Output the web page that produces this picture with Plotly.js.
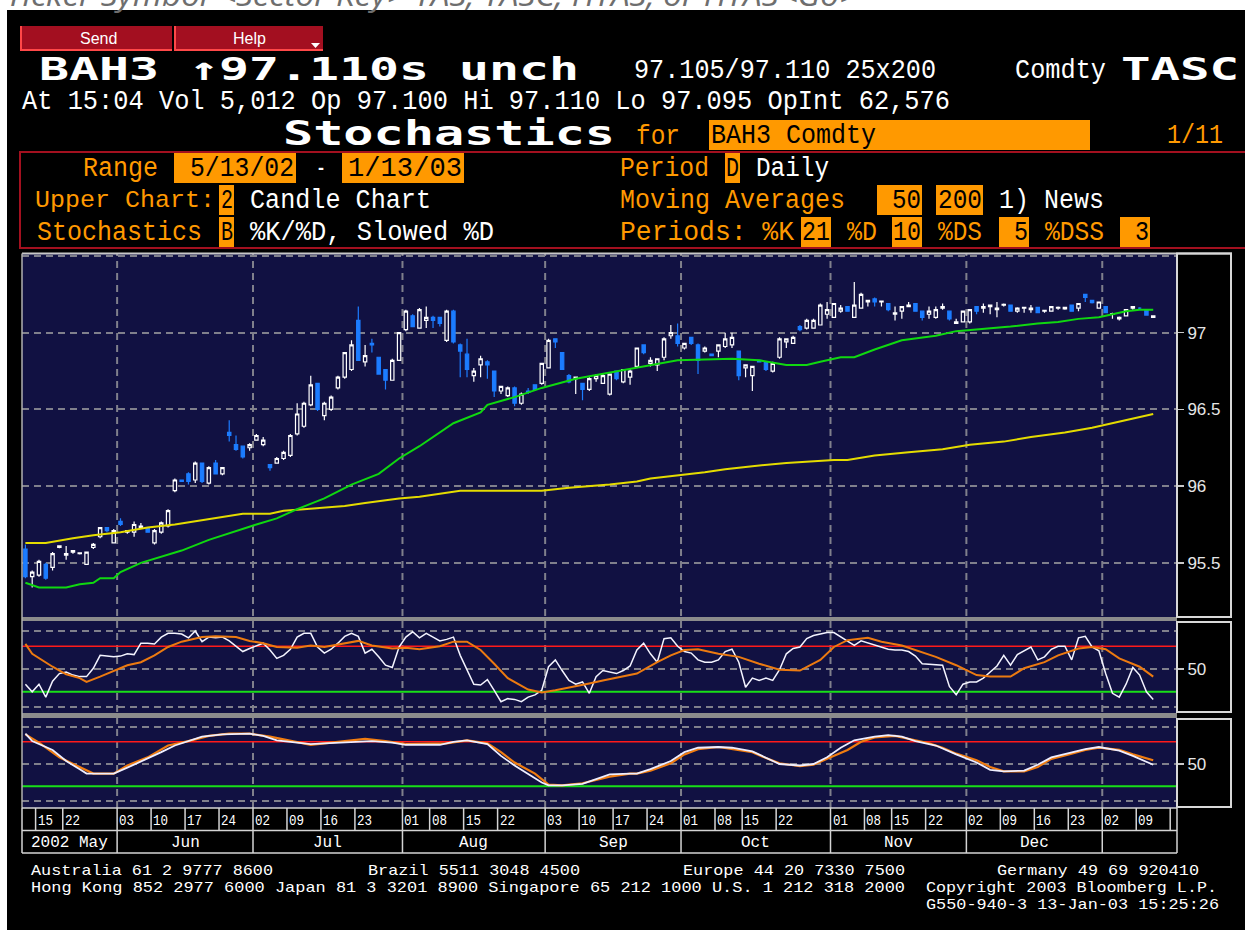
<!DOCTYPE html>
<html><head><meta charset="utf-8">
<script src="https://cdn.plot.ly/plotly-3.0.1.min.js"></script>
<style>html,body{margin:0;padding:0;background:#000;overflow:hidden}#chart{width:1245px;height:930px}</style>
</head><body><div id="chart"></div>
<script>
// ------------------------------------------------------------------ DATA
const sessions = [
'2002-05-13','2002-05-14','2002-05-15','2002-05-16','2002-05-17','2002-05-21','2002-05-22','2002-05-23','2002-05-24','2002-05-27','2002-05-28','2002-05-29','2002-05-30','2002-05-31',
'2002-06-03','2002-06-04','2002-06-05','2002-06-06','2002-06-07','2002-06-10','2002-06-11','2002-06-12','2002-06-13','2002-06-14','2002-06-17','2002-06-18','2002-06-19','2002-06-20','2002-06-21','2002-06-24','2002-06-25','2002-06-26','2002-06-27','2002-06-28',
'2002-07-02','2002-07-03','2002-07-04','2002-07-05','2002-07-08','2002-07-09','2002-07-10','2002-07-11','2002-07-12','2002-07-15','2002-07-16','2002-07-17','2002-07-18','2002-07-19','2002-07-22','2002-07-23','2002-07-24','2002-07-25','2002-07-26','2002-07-29','2002-07-30','2002-07-31',
'2002-08-01','2002-08-02','2002-08-06','2002-08-07','2002-08-08','2002-08-09','2002-08-12','2002-08-13','2002-08-14','2002-08-15','2002-08-16','2002-08-19','2002-08-20','2002-08-21','2002-08-22','2002-08-23','2002-08-26','2002-08-27','2002-08-28','2002-08-29','2002-08-30',
'2002-09-03','2002-09-04','2002-09-05','2002-09-06','2002-09-09','2002-09-10','2002-09-11','2002-09-12','2002-09-13','2002-09-16','2002-09-17','2002-09-18','2002-09-19','2002-09-20','2002-09-23','2002-09-24','2002-09-25','2002-09-26','2002-09-27','2002-09-30',
'2002-10-01','2002-10-02','2002-10-03','2002-10-04','2002-10-07','2002-10-08','2002-10-09','2002-10-10','2002-10-11','2002-10-15','2002-10-16','2002-10-17','2002-10-18','2002-10-21','2002-10-22','2002-10-23','2002-10-24','2002-10-25','2002-10-28','2002-10-29','2002-10-30','2002-10-31',
'2002-11-01','2002-11-04','2002-11-05','2002-11-06','2002-11-07','2002-11-08','2002-11-12','2002-11-13','2002-11-14','2002-11-15','2002-11-18','2002-11-19','2002-11-20','2002-11-21','2002-11-22','2002-11-25','2002-11-26','2002-11-27','2002-11-28','2002-11-29',
'2002-12-02','2002-12-03','2002-12-04','2002-12-05','2002-12-06','2002-12-09','2002-12-10','2002-12-11','2002-12-12','2002-12-13','2002-12-16','2002-12-17','2002-12-18','2002-12-19','2002-12-20','2002-12-23','2002-12-24','2002-12-27','2002-12-30','2002-12-31',
'2003-01-02','2003-01-03','2003-01-06','2003-01-07','2003-01-08','2003-01-09','2003-01-10','2003-01-13'];
const futureSessions = ['2003-01-14','2003-01-15','2003-01-16'];

const open = [
95.59,95.41,95.42,95.49,95.47,95.60,95.55,95.57,95.56,95.49,95.60,95.67,95.73,95.63,
95.77,95.70,95.70,95.73,95.73,95.63,95.70,95.74,95.97,96.04,96.08,96.04,96.15,96.02,96.15,96.08,96.35,96.27,96.26,96.25,
96.30,96.27,96.14,96.15,96.18,96.20,96.34,96.39,96.53,96.67,96.46,96.50,96.64,96.71,96.76,97.08,96.81,96.93,96.84,96.76,96.69,96.82,
97.02,97.11,97.03,97.08,97.10,97.10,96.95,97.14,96.92,96.86,96.72,96.79,96.81,96.75,96.62,96.59,96.64,96.54,96.62,96.66,96.67,
96.77,96.96,96.87,96.72,96.70,96.67,96.63,96.70,96.67,96.60,96.75,96.68,96.71,96.78,96.92,96.80,96.79,96.84,96.98,96.98,
96.90,96.97,96.92,96.88,96.86,96.88,96.91,96.92,96.88,96.77,96.72,96.82,96.81,96.75,96.84,96.94,96.93,97.04,97.03,97.03,97.05,97.12,
97.10,97.14,97.17,97.10,97.16,97.20,97.22,97.20,97.19,97.12,97.14,97.17,97.19,97.14,97.12,97.10,97.16,97.14,97.06,97.07,
97.07,97.17,97.16,97.17,97.15,97.18,97.18,97.14,97.16,97.15,97.165,97.14,97.14,97.16,97.155,97.18,97.16,97.25,97.21,97.16,
97.17,97.12,97.09,97.11,97.16,97.16,97.15,97.10];
const high = [
95.62,95.45,95.52,95.50,95.57,95.61,95.61,95.58,95.565,95.57,95.63,95.73,95.73,95.72,
95.79,95.71,95.77,95.76,95.73,95.72,95.77,95.85,96.05,96.04,96.09,96.16,96.15,96.13,96.17,96.12,96.43,96.33,96.26,96.28,
96.34,96.32,96.14,96.19,96.23,96.34,96.54,96.55,96.72,96.67,96.55,96.59,96.72,96.87,96.95,97.17,96.92,96.96,96.84,96.76,96.83,97.00,
97.15,97.12,97.16,97.17,97.11,97.10,97.15,97.15,96.93,96.96,96.77,96.85,96.82,96.75,96.65,96.65,96.65,96.61,96.64,96.66,96.80,
96.96,96.96,96.87,96.73,96.71,96.67,96.71,96.73,96.73,96.73,96.75,96.76,96.77,96.90,96.92,96.84,96.83,96.97,97.05,97.06,
96.93,96.97,96.93,96.91,96.86,96.92,97.00,97.00,96.88,96.79,96.78,96.82,96.81,96.81,96.97,96.96,96.98,97.05,97.09,97.09,97.19,97.20,
97.19,97.18,97.17,97.33,97.26,97.21,97.23,97.21,97.19,97.17,97.17,97.20,97.19,97.14,97.17,97.17,97.19,97.14,97.09,97.14,
97.15,97.17,97.19,97.18,97.20,97.19,97.18,97.165,97.165,97.18,97.165,97.15,97.17,97.17,97.165,97.18,97.19,97.25,97.21,97.20,
97.17,97.13,97.105,97.15,97.17,97.165,97.15,97.11];
const low = [
95.40,95.34,95.41,95.39,95.45,95.595,95.52,95.56,95.555,95.49,95.59,95.66,95.70,95.63,
95.74,95.69,95.67,95.72,95.70,95.62,95.69,95.73,95.96,96.03,96.01,96.02,96.02,96.01,96.08,96.07,96.29,96.23,96.18,96.23,
96.30,96.26,96.10,96.15,96.17,96.19,96.33,96.38,96.52,96.49,96.43,96.49,96.63,96.70,96.75,96.82,96.78,96.87,96.73,96.63,96.69,96.82,
97.01,97.04,97.03,97.03,97.03,97.04,96.94,96.93,96.71,96.71,96.68,96.71,96.70,96.58,96.60,96.58,96.52,96.53,96.60,96.62,96.66,
96.77,96.90,96.76,96.67,96.60,96.56,96.62,96.68,96.67,96.59,96.69,96.67,96.66,96.78,96.86,96.78,96.75,96.82,96.96,96.91,
96.89,96.92,96.73,96.87,96.85,96.84,96.90,96.90,96.69,96.71,96.62,96.81,96.75,96.74,96.83,96.90,96.93,97.01,97.02,97.03,97.05,97.09,
97.10,97.13,97.14,97.10,97.16,97.17,97.17,97.17,97.14,97.08,97.09,97.17,97.14,97.08,97.09,97.09,97.15,97.08,97.06,97.07,
97.06,97.12,97.13,97.12,97.10,97.17,97.14,97.13,97.13,97.13,97.13,97.13,97.14,97.15,97.15,97.14,97.14,97.20,97.19,97.16,
97.13,97.09,97.08,97.11,97.15,97.155,97.11,97.095];
const close = [
95.41,95.44,95.51,95.40,95.56,95.61,95.56,95.58,95.565,95.57,95.62,95.73,95.71,95.71,
95.75,95.71,95.75,95.74,95.70,95.71,95.76,95.84,96.04,96.03,96.03,96.15,96.03,96.12,96.08,96.12,96.33,96.24,96.19,96.27,
96.33,96.30,96.12,96.18,96.22,96.33,96.47,96.54,96.66,96.50,96.54,96.58,96.71,96.87,96.92,96.82,96.85,96.92,96.73,96.69,96.82,97.00,
97.14,97.04,97.15,97.10,97.08,97.06,97.14,96.94,96.88,96.76,96.75,96.83,96.79,96.62,96.65,96.64,96.54,96.60,96.61,96.63,96.80,
96.95,96.94,96.76,96.68,96.71,96.63,96.70,96.72,96.72,96.73,96.70,96.76,96.75,96.90,96.87,96.82,96.83,96.96,97.00,96.93,
96.93,96.93,96.82,96.90,96.85,96.92,96.96,96.97,96.72,96.79,96.78,96.81,96.76,96.80,96.96,96.96,96.97,97.02,97.08,97.08,97.18,97.15,
97.19,97.16,97.14,97.18,97.25,97.21,97.20,97.205,97.15,97.13,97.17,97.18,97.14,97.10,97.14,97.15,97.17,97.09,97.07,97.14,
97.15,97.14,97.17,97.18,97.16,97.185,97.14,97.16,97.165,97.16,97.13,97.145,97.17,97.165,97.165,97.14,97.19,97.23,97.195,97.20,
97.13,97.125,97.10,97.15,97.17,97.16,97.115,97.11];

// 50-day moving average (green), read at sampled sessions
const ma50Dates = ['2002-05-13','2002-05-15','2002-05-22','2002-05-24','2002-05-28','2002-05-29','2002-05-31','2002-06-03','2002-06-06','2002-06-11','2002-06-14','2002-06-20','2002-06-26','2002-07-02','2002-07-05','2002-07-10','2002-07-16','2002-07-22','2002-07-26','2002-07-31','2002-08-06','2002-08-08','2002-08-13','2002-08-19','2002-08-20','2002-08-26','2002-08-30','2002-09-09','2002-09-16','2002-09-23','2002-09-30','2002-10-10','2002-10-17','2002-10-23','2002-10-28','2002-10-30','2002-11-04','2002-11-06','2002-11-12','2002-11-18','2002-11-25','2002-11-28','2002-12-03','2002-12-10','2002-12-16','2002-12-19','2002-12-24','2002-12-31','2003-01-03','2003-01-07','2003-01-09','2003-01-13'];
const ma50 = [95.37,95.34,95.34,95.36,95.37,95.40,95.40,95.44,95.50,95.54,95.58,95.65,95.71,95.75,95.79,95.85,95.92,96.01,96.08,96.18,96.26,96.32,96.41,96.48,96.53,96.58,96.64,96.70,96.74,96.78,96.82,96.83,96.82,96.79,96.79,96.81,96.84,96.84,96.89,96.95,96.98,97.01,97.02,97.04,97.06,97.07,97.09,97.10,97.12,97.14,97.15,97.15];
// 200-day moving average (yellow)
const ma200Dates = ['2002-05-13','2002-05-16','2002-05-23','2002-05-28','2002-06-03','2002-06-07','2002-06-13','2002-06-18','2002-06-24','2002-06-27','2002-07-04','2002-07-08','2002-07-11','2002-07-19','2002-07-24','2002-07-31','2002-08-06','2002-08-09','2002-08-14','2002-08-30','2002-09-06','2002-09-16','2002-09-20','2002-09-24','2002-09-30','2002-10-04','2002-10-09','2002-10-16','2002-10-23','2002-10-28','2002-11-01','2002-11-05','2002-11-12','2002-11-19','2002-11-26','2002-12-02','2002-12-09','2002-12-13','2002-12-20','2002-12-30','2003-01-03','2003-01-13'];
const ma200 = [95.63,95.63,95.66,95.68,95.70,95.73,95.75,95.77,95.80,95.82,95.82,95.84,95.85,95.87,95.89,95.92,95.93,95.95,95.97,95.97,95.99,96.01,96.03,96.05,96.07,96.09,96.11,96.13,96.15,96.16,96.17,96.17,96.20,96.22,96.24,96.27,96.29,96.32,96.35,96.38,96.41,96.47];

// Stochastics %K (white, daily) and %D (orange)
const pctK = [
30,20,30,13,34,44,46,42,40,40,51,68,67,66,
67,70,69,84,84,83,92,97,97,96,91,100,86,92,91,92,87,80,73,77,
80,84,75,64,68,76,92,97,97,79,71,76,84,93,97,93,71,76,66,55,52,79,
92,99,91,97,92,87,89,92,68,48,30,29,36,22,7,11,10,7,13,16,22,
53,62,48,35,30,33,18,40,48,46,44,48,54,75,84,70,59,90,91,80,
73,71,62,59,59,62,73,76,59,26,38,35,38,35,49,70,77,79,90,94,96,98,
98,92,86,81,87,84,81,79,76,75,75,73,67,57,56,56,55,27,16,30,
33,33,38,46,54,68,55,69,74,79,62,66,76,80,80,62,91,93,79,74,
44,18,13,30,52,42,20,10];
const pctDDates = ['2002-05-13','2002-05-14','2002-05-17','2002-05-22','2002-05-24','2002-05-27','2002-05-29','2002-05-31','2002-06-04','2002-06-06','2002-06-10','2002-06-12','2002-06-14','2002-06-19','2002-06-21','2002-06-26','2002-06-28','2002-07-03','2002-07-05','2002-07-10','2002-07-12','2002-07-16','2002-07-19','2002-07-23','2002-07-25','2002-07-30','2002-08-01','2002-08-06','2002-08-09','2002-08-13','2002-08-15','2002-08-19','2002-08-21','2002-08-23','2002-08-28','2002-08-30','2002-09-04','2002-09-09','2002-09-11','2002-09-13','2002-09-18','2002-09-20','2002-09-25','2002-09-27','2002-10-01','2002-10-03','2002-10-08','2002-10-11','2002-10-17','2002-10-22','2002-10-25','2002-10-30','2002-11-01','2002-11-05','2002-11-08','2002-11-13','2002-11-18','2002-11-20','2002-11-25','2002-11-28','2002-12-03','2002-12-05','2002-12-10','2002-12-12','2002-12-17','2002-12-19','2002-12-24','2002-12-30','2003-01-02','2003-01-06','2003-01-08','2003-01-09','2003-01-13'];
const pctD = [83,70,53,43,38,33,40,48,55,59,68,79,86,92,93,92,87,84,79,78,81,79,84,87,81,77,78,76,80,86,86,75,57,38,23,19,22,27,31,35,40,44,59,68,75,76,70,66,57,49,48,62,79,88,91,86,81,75,66,55,42,40,40,51,59,68,77,79,76,64,56,53,40];

// Slowed stochastics %DS (white) and %DSS (orange)
const pctDSDates = ['2002-05-13','2002-05-14','2002-05-17','2002-05-22','2002-05-24','2002-05-27','2002-05-30','2002-05-31','2002-06-04','2002-06-07','2002-06-11','2002-06-13','2002-06-17','2002-06-19','2002-06-24','2002-06-26','2002-06-28','2002-07-03','2002-07-05','2002-07-10','2002-07-12','2002-07-16','2002-07-19','2002-07-23','2002-07-25','2002-07-30','2002-08-01','2002-08-06','2002-08-09','2002-08-13','2002-08-15','2002-08-20','2002-08-22','2002-08-26','2002-08-28','2002-08-30','2002-09-03','2002-09-05','2002-09-10','2002-09-12','2002-09-16','2002-09-19','2002-09-20','2002-09-24','2002-09-27','2002-10-01','2002-10-03','2002-10-08','2002-10-10','2002-10-16','2002-10-18','2002-10-22','2002-10-25','2002-10-29','2002-10-31','2002-11-04','2002-11-06','2002-11-12','2002-11-14','2002-11-18','2002-11-20','2002-11-25','2002-11-28','2002-12-03','2002-12-05','2002-12-09','2002-12-12','2002-12-16','2002-12-18','2002-12-23','2002-12-27','2002-12-31','2003-01-06','2003-01-08','2003-01-13'];
const pctDS = [91,81,69,54,43,37,37,37,45,57,66,75,81,87,90,91,91,88,82,79,77,78,79,80,81,79,76,76,76,80,82,77,61,48,37,25,21,21,23,30,36,37,37,43,54,66,72,73,72,67,59,50,48,50,59,72,82,87,89,87,81,75,63,52,42,40,41,49,59,66,70,73,68,61,49];
const pctDSSDates = ['2002-05-13','2002-05-15','2002-05-21','2002-05-24','2002-05-28','2002-05-31','2002-06-04','2002-06-07','2002-06-12','2002-06-17','2002-06-20','2002-06-25','2002-06-28','2002-07-04','2002-07-09','2002-07-12','2002-07-16','2002-07-24','2002-07-29','2002-08-01','2002-08-12','2002-08-15','2002-08-20','2002-08-22','2002-08-26','2002-08-29','2002-09-03','2002-09-05','2002-09-10','2002-09-12','2002-09-16','2002-09-19','2002-09-20','2002-09-24','2002-09-27','2002-10-01','2002-10-03','2002-10-08','2002-10-10','2002-10-16','2002-10-18','2002-10-22','2002-10-25','2002-10-29','2002-10-31','2002-11-05','2002-11-07','2002-11-12','2002-11-15','2002-11-19','2002-11-22','2002-11-26','2002-11-28','2002-12-03','2002-12-05','2002-12-09','2002-12-12','2002-12-16','2002-12-18','2002-12-23','2002-12-27','2002-12-31','2003-01-06','2003-01-08','2003-01-13'];
const pctDSS = [90,79,59,46,37,37,48,59,75,81,88,91,91,87,81,76,78,84,81,77,78,82,78,66,52,37,22,21,24,29,33,37,37,41,51,63,70,73,70,66,58,51,47,49,57,69,80,86,88,84,78,72,64,55,46,40,40,46,57,64,69,72,69,63,55];

// axis ticks and labels
const priceTicks = [95.5, 96, 96.5, 97];
const stochTicks = [50];
const weekTickDates = ['2002-05-15','2002-05-22','2002-06-03','2002-06-10','2002-06-17','2002-06-24','2002-07-02','2002-07-09','2002-07-16','2002-07-23','2002-08-01','2002-08-08','2002-08-15','2002-08-22','2002-09-03','2002-09-10','2002-09-17','2002-09-24','2002-10-01','2002-10-08','2002-10-15','2002-10-22','2002-11-01','2002-11-08','2002-11-15','2002-11-22','2002-12-02','2002-12-09','2002-12-16','2002-12-23','2003-01-02','2003-01-09','2003-01-16'];
const monthLabels = ['2002 May','Jun','Jul','Aug','Sep','Oct','Nov','Dec'];

// ------------------------------------------------------------------ LAYOUT HELPERS
const W = 1245, H = 930;
const px = x => x / W, py = y => 1 - y / H;
const NAVY = '#111142', ORANGE = '#ff9900', DKRED = '#a3101f', GRID = '#80808c', TBL = '#d4d4d4';
const GDASH = '7px,5px';
const MONO = '"Liberation Mono", "DejaVu Sans Mono", monospace';
const BOLD = '"DejaVu Sans Mono", monospace';
const SANS = '"Liberation Sans", Arial, sans-serif';
const calendar = sessions.concat(futureSessions);

const shapes = [];
function rect(x0, y0, x1, y1, fill, lc, lw, layer) {
  shapes.push({type: 'rect', xref: 'paper', yref: 'paper', x0: px(x0), x1: px(x1), y0: py(y1), y1: py(y0),
    fillcolor: fill || 'rgba(0,0,0,0)', line: {color: lc || 'rgba(0,0,0,0)', width: lw || 0}, layer: layer || 'above'});
}
function seg(x0, y0, x1, y1, color, width, layer) {
  shapes.push({type: 'line', xref: 'paper', yref: 'paper', x0: px(x0), y0: py(y0), x1: px(x1), y1: py(y1),
    line: {color, width}, layer: layer || 'above'});
}
const annotations = [], fitWidths = [];
function label(text, x, y, o) {
  o = o || {};
  const anchor = o.anchor || 'left';
  annotations.push({text, xref: o.xref || 'paper', yref: 'paper', x: o.xref ? x : px(x), y: py(y),
    xanchor: anchor, yanchor: o.yanchor || 'middle', align: anchor === 'center' ? 'center' : anchor,
    xshift: o.xshift || 0, showarrow: false, borderpad: 0, borderwidth: 0,
    font: {family: o.family || MONO, size: o.size || 27, color: o.color || '#ffffff',
      weight: o.bold ? 700 : 400, style: o.italic ? 'italic' : 'normal'}});
  fitWidths.push(o.w || 0);
}

// background strips and panels (below traces)
rect(0, 0, W, 10, '#ffffff', null, 0, 'below');
rect(0, 0, 7, H, '#ffffff', null, 0, 'below');
const P = {l: 22, r: 1177, mainTop: 253.5, mainBot: 617, s1Top: 621, s1Bot: 713, s2Top: 718, s2Bot: 808};
rect(P.l, P.mainTop, P.r, P.mainBot, NAVY, null, 0, 'below');
rect(P.l, P.s1Top, P.r, P.s1Bot, NAVY, null, 0, 'below');
rect(P.l, P.s2Top, P.r, P.s2Bot, NAVY, null, 0, 'below');

// month boundaries from the calendar
const monthStarts = [];
calendar.forEach((d, i) => { if (i === 0 || d.slice(0, 7) !== calendar[i - 1].slice(0, 7)) monthStarts.push(i); });
monthStarts.slice(1).forEach(i => {
  shapes.push({type: 'line', xref: 'x', yref: 'paper', x0: i - 0.5, x1: i - 0.5, y0: py(P.s2Bot), y1: py(P.mainTop),
    line: {color: GRID, width: 2, dash: GDASH}, layer: 'below'});
});
function hgrid(yref, v, color, width, dash) {
  shapes.push({type: 'line', xref: 'paper', yref, x0: px(P.l), x1: px(P.r), y0: v, y1: v,
    line: {color, width, dash: dash || 'solid'}, layer: 'below'});
}
hgrid('y', 97.5, GRID, 2, GDASH);
['y2', 'y3'].forEach(a => { hgrid(a, 0, GRID, 2, GDASH); hgrid(a, 100, GRID, 2, GDASH); });
['y2', 'y3'].forEach(a => { hgrid(a, 80, '#ff1a1a', 1.6); hgrid(a, 20, '#18e018', 2); });

// frames and separators (above)
rect(P.l, P.mainBot, P.r, P.s1Top, '#8c8c8c');
rect(P.l, P.s1Bot, P.r, P.s2Top, '#8c8c8c');
seg(P.l, P.mainTop, 1232, P.mainTop, '#c8c8c8', 2);
seg(P.l, P.mainTop, P.l, P.s2Bot, '#b0b0b0', 1.5);
rect(P.r, P.mainTop, 1231, P.mainBot, null, '#d8d8d8', 2);
rect(P.r, P.s1Top + 1, 1231, P.s1Bot - 1, null, '#d8d8d8', 2);
rect(P.r, P.s2Top + 1, 1231, P.s2Bot - 1, null, '#d8d8d8', 2);

// date table
const rowMid = 830.5, tblBot = 853;
seg(P.l, P.s2Bot, P.r, P.s2Bot, TBL, 1.5);
seg(P.l, rowMid, P.r, rowMid, TBL, 1.5);
seg(P.l, tblBot, P.r, tblBot, TBL, 1.5);
seg(P.l, P.s2Bot, P.l, tblBot, TBL, 1.5);
seg(P.r, P.s2Bot, P.r, tblBot, TBL, 1.5);
const weekIdx = weekTickDates.map(d => calendar.indexOf(d));
weekIdx.forEach((i, k) => {
  shapes.push({type: 'line', xref: 'x', yref: 'paper', x0: i - 0.5, x1: i - 0.5, y0: py(rowMid), y1: py(P.s2Bot),
    line: {color: TBL, width: 1.5}, layer: 'above'});
  const next = k + 1 < weekIdx.length ? weekIdx[k + 1] : calendar.length;
  if (next - i >= 3) label(weekTickDates[k].slice(8), i - 0.5, 821, {xref: 'x', xshift: 2, size: 15, w: 15});
});
monthStarts.forEach((s, k) => {
  const e = k + 1 < monthStarts.length ? monthStarts[k + 1] - 1 : calendar.length - 1;
  if (k > 0) shapes.push({type: 'line', xref: 'x', yref: 'paper', x0: s - 0.5, x1: s - 0.5, y0: py(tblBot), y1: py(rowMid),
    line: {color: TBL, width: 1.5}, layer: 'above'});
  if (monthLabels[k]) label(monthLabels[k], (s + e) / 2, 843, {xref: 'x', anchor: 'center', size: 16});
});

// ------------------------------------------------------------------ HEADER
label('Ticker Symbol &lt;Sector Key&gt; TAS, TASC, HTAS, or HTAS&lt;Go&gt;', 6, 15,
  {yanchor: 'bottom', family: '"Open Sans", sans-serif', size: 31, italic: true, color: '#6e6e6e', w: 852});
rect(20, 26, 172, 51, '#a30f20'); rect(174, 26, 323, 51, '#a30f20');
seg(21, 26, 21, 51, '#ff4848', 2); seg(20, 50, 172, 50, '#ff4848', 2);
seg(175, 26, 175, 51, '#ff4848', 2); seg(174, 50, 323, 50, '#ff4848', 2);
shapes.push({type: 'path', xref: 'paper', yref: 'paper', fillcolor: '#ffffff', line: {width: 0}, layer: 'above',
  path: `M ${px(311)} ${py(43)} L ${px(320)} ${py(43)} L ${px(315.5)} ${py(48)} Z`});
label('Send', 98, 38, {anchor: 'center', family: SANS, size: 16});
label('Help', 249, 38, {anchor: 'center', family: SANS, size: 16});

label('BAH3 \u219197.110s unch', 39, 69, {family: BOLD, size: 32, bold: true, w: 540});
label('97.105/97.110 25x200', 634, 71, {w: 302});
label('Comdty', 1015, 71, {w: 91});
label('TASC', 1121, 69, {family: BOLD, size: 32, bold: true, w: 118});
label('At 15:04 Vol 5,012 Op 97.100 Hi 97.110 Lo 97.095 OpInt 62,576', 22, 102, {w: 928});
label('Stochastics', 283, 134, {family: BOLD, size: 33, bold: true, w: 332});
label('for', 636, 137, {color: ORANGE, w: 44});
rect(709, 120, 1090, 150, ORANGE);
label('BAH3 Comdty', 711, 136, {color: '#000000', w: 165});
label('1/11', 1167, 136, {color: ORANGE, w: 56});

rect(20, 152, 1252, 248, null, DKRED, 2);
const rowTop = [153, 185, 217], rowBot = [183, 215, 247], rowY = [169, 201, 233];
function box(x0, x1, r) { rect(x0, rowTop[r], x1, rowBot[r], ORANGE); }
label('Range', 83, rowY[0], {color: ORANGE, w: 75});
box(174, 296, 0); label('5/13/02', 190, rowY[0], {color: '#000000', w: 104});
label('-', 316, rowY[0], {w: 10});
box(342, 464, 0); label('1/13/03', 348, rowY[0], {color: '#000000', w: 114});
label('Period', 620, rowY[0], {color: ORANGE, w: 89});
box(725, 740, 0); label('D', 726, rowY[0], {color: '#000000', w: 13});
label('Daily', 756, rowY[0], {w: 73});

label('Upper Chart:', 35, rowY[1], {color: ORANGE, size: 24, w: 180});
box(219, 234, 1); label('2', 221, rowY[1], {color: '#000000', w: 12});
label('Candle Chart', 250, rowY[1], {w: 181});
label('Moving Averages', 620, rowY[1], {color: ORANGE, w: 225});
box(877, 922, 1); label('50', 892, rowY[1], {color: '#000000', w: 29});
box(936, 983, 1); label('200', 938, rowY[1], {color: '#000000', w: 44});
label('1) News', 999, rowY[1], {w: 105});

label('Stochastics', 37, rowY[2], {color: ORANGE, w: 165});
box(219, 234, 2); label('B', 221, rowY[2], {color: '#000000', w: 12});
label('%K/%D, Slowed %D', 250, rowY[2], {w: 244});
label('Periods: %K', 620, rowY[2], {color: ORANGE, w: 174});
box(801, 831, 2); label('21', 802, rowY[2], {color: '#000000', w: 28});
label('%D', 847, rowY[2], {color: ORANGE, w: 30});
box(892, 922, 2); label('10', 893, rowY[2], {color: '#000000', w: 28});
label('%DS', 938, rowY[2], {color: ORANGE, w: 44});
box(999, 1029, 2); label('5', 1014, rowY[2], {color: '#000000', w: 14});
label('%DSS', 1045, rowY[2], {color: ORANGE, w: 59});
box(1120, 1150, 2); label('3', 1135, rowY[2], {color: '#000000', w: 14});

// ------------------------------------------------------------------ FOOTER
label('Australia 61 2 9777 8600', 31, 871, {size: 15, w: 242});
label('Brazil 5511 3048 4500', 368, 871, {size: 15, w: 212});
label('Europe 44 20 7330 7500', 683, 871, {size: 15, w: 222});
label('Germany 49 69 920410', 997, 871, {size: 15, w: 202});
label('Hong Kong 852 2977 6000 Japan 81 3 3201 8900 Singapore 65 212 1000 U.S. 1 212 318 2000', 31, 888, {size: 15, w: 874});
label('Copyright 2003 Bloomberg L.P.', 926, 888, {size: 15, w: 291});
label('G550-940-3 13-Jan-03 15:25:26', 926, 905, {size: 15, w: 293});

// ------------------------------------------------------------------ TRACES
const traces = [
  {type: 'candlestick', x: sessions, open, high, low, close, xaxis: 'x', yaxis: 'y', whiskerwidth: 0,
    increasing: {line: {color: '#ffffff', width: 1.2}, fillcolor: NAVY},
    decreasing: {line: {color: '#1c7cff', width: 1.2}, fillcolor: '#1c7cff'}, hoverinfo: 'skip'},
  {type: 'scatter', mode: 'lines', x: ma200Dates, y: ma200, xaxis: 'x', yaxis: 'y', line: {color: '#e4dc00', width: 2}},
  {type: 'scatter', mode: 'lines', x: ma50Dates, y: ma50, xaxis: 'x', yaxis: 'y', line: {color: '#10d810', width: 2}},
  {type: 'scatter', mode: 'lines', x: sessions, y: pctK, xaxis: 'x', yaxis: 'y2', line: {color: '#f4f4ff', width: 1.5}},
  {type: 'scatter', mode: 'lines', x: pctDDates, y: pctD, xaxis: 'x', yaxis: 'y2', line: {color: '#ec7a10', width: 2}},
  {type: 'scatter', mode: 'lines', x: pctDSSDates, y: pctDSS, xaxis: 'x', yaxis: 'y3', line: {color: '#f07c10', width: 2.2}},
  {type: 'scatter', mode: 'lines', x: pctDSDates, y: pctDS, xaxis: 'x', yaxis: 'y3', line: {color: '#eeeeff', width: 1.8}}
];

const yStyle = {side: 'right', anchor: 'x', showgrid: true, gridcolor: GRID, gridwidth: 2, griddash: GDASH,
  zeroline: false, showline: false, ticks: 'outside', ticklen: 6, tickwidth: 1.5, tickcolor: '#c8c8c8',
  tickfont: {family: SANS, size: 17, color: '#e6e6e6'}, fixedrange: true};
const layout = {
  width: W, height: H, margin: {l: 0, r: 0, t: 0, b: 0},
  paper_bgcolor: '#000000', plot_bgcolor: 'rgba(0,0,0,0)', showlegend: false, hovermode: false, dragmode: false,
  xaxis: {domain: [px(P.l), px(P.r)], type: 'category', categoryorder: 'array', categoryarray: calendar,
    range: [-0.5, calendar.length - 0.5], showgrid: false, zeroline: false, showticklabels: false, ticks: '',
    showline: false, anchor: 'y3', rangeslider: {visible: false}, fixedrange: true},
  yaxis: Object.assign({}, yStyle, {domain: [py(P.mainBot), py(P.mainTop)], range: [95.147, 97.516], tickvals: priceTicks}),
  yaxis2: Object.assign({}, yStyle, {domain: [py(P.s1Bot), py(P.s1Top)], range: [-7.9, 113.2], tickvals: stochTicks}),
  yaxis3: Object.assign({}, yStyle, {domain: [py(P.s2Bot), py(P.s2Top)], range: [-9.5, 112.2], tickvals: stochTicks}),
  shapes, annotations
};

// stretch/squeeze fitted texts to the widths they occupy on the terminal screen
Plotly.newPlot('chart', traces, layout, {staticPlot: true, displayModeBar: false}).then(gd => {
  gd.querySelectorAll('g.annotation').forEach(g => {
    const w = fitWidths[+g.getAttribute('data-index')];
    if (!w) return;
    const t = g.querySelector('text.annotation-text');
    if (t) { t.setAttribute('textLength', w); t.setAttribute('lengthAdjust', 'spacingAndGlyphs'); }
    const bg = g.querySelector('rect.bg');
    if (bg) bg.setAttribute('width', w);
  });
});
</script>
</body></html>
